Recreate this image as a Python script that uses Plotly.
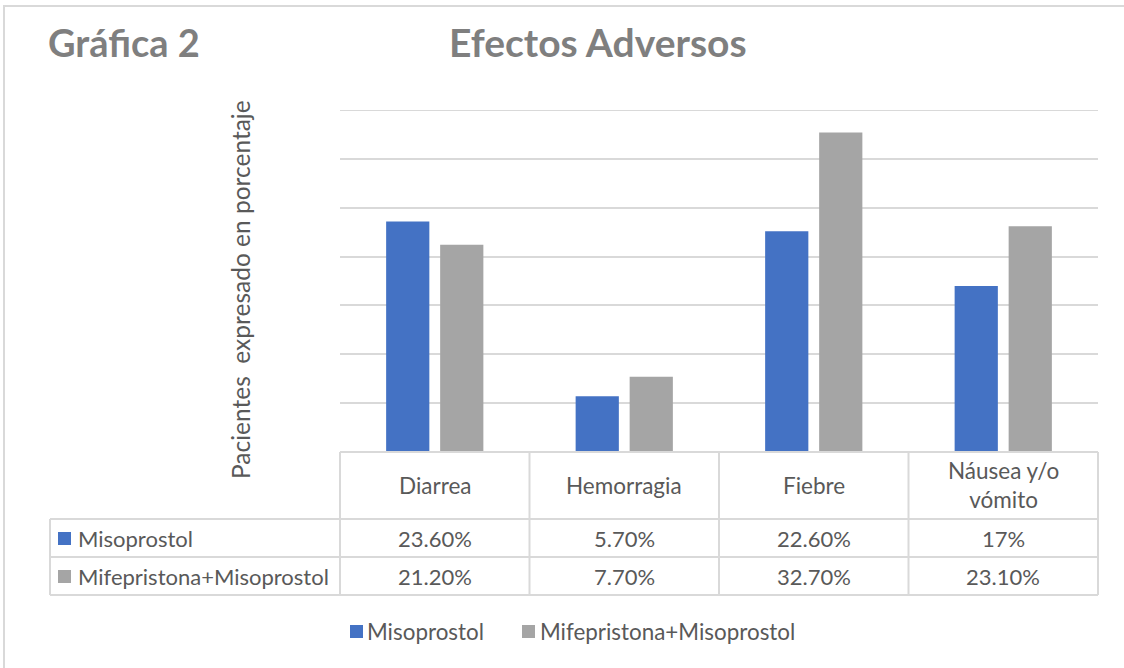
import plotly.graph_objects as go

# ---------------- data ----------------
categories = ["Diarrea", "Hemorragia", "Fiebre", "Náusea y/o vómito"]
category_labels = ["Diarrea", "Hemorragia", "Fiebre", "Náusea y/o<br>vómito"]
series_names = ["Misoprostol", "Mifepristona+Misoprostol"]
misoprostol = [23.6, 5.7, 22.6, 17.0]
mife_miso = [21.2, 7.7, 32.7, 23.1]
misoprostol_labels = ["23.60%", "5.70%", "22.60%", "17%"]
mife_miso_labels = ["21.20%", "7.70%", "32.70%", "23.10%"]
series_values = [misoprostol, mife_miso]
series_labels = [misoprostol_labels, mife_miso_labels]
colors = ["#4472C4", "#A5A5A5"]
y_max, y_step = 35, 5

# ---------------- layout helpers (pixels -> paper) ----------------
W, H = 1124, 668
L, R, T, B = 340, 1098, 110, 452


def px(x):
    return (x - L) / (R - L)


def py(y):
    return (B - y) / (B - T)


FONT = "Lato, 'Noto Sans', sans-serif"
TXT = "#595959"
GRID = "#D9D9D9"

fig = go.Figure()
for name, vals, col in zip(series_names, series_values, colors):
    fig.add_trace(go.Bar(x=categories, y=vals, name=name, showlegend=False,
                         marker=dict(color=col, line=dict(width=0))))

shapes = []
annotations = []

# outer chart frame (only top/left visible)
shapes.append(dict(type="rect", xref="paper", yref="paper", x0=px(4), x1=px(1160), y0=py(720), y1=py(6),
                   line=dict(color=GRID, width=2), fillcolor="rgba(0,0,0,0)", layer="below"))
# top gridline at the range maximum
shapes.append(dict(type="line", xref="paper", yref="y", x0=0, x1=1, y0=y_max, y1=y_max,
                   line=dict(color=GRID, width=2), layer="below"))

# data table
n = len(categories)
row_y = [452, 519, 557, 595]
tbl_left = 50
line = dict(color=GRID, width=2)
shapes.append(dict(type="line", xref="paper", yref="paper", x0=0, x1=1, y0=py(row_y[0]), y1=py(row_y[0]), line=line))
for ry in row_y[1:]:
    shapes.append(dict(type="line", xref="paper", yref="paper", x0=px(tbl_left), x1=1, y0=py(ry), y1=py(ry), line=line))
for i in range(n + 1):
    shapes.append(dict(type="line", xref="paper", yref="paper", x0=i / n, x1=i / n,
                       y0=py(row_y[0]), y1=py(row_y[-1]), line=line))
shapes.append(dict(type="line", xref="paper", yref="paper", x0=px(tbl_left), x1=px(tbl_left),
                   y0=py(row_y[1]), y1=py(row_y[-1]), line=line))

# header labels
for cat, lab in zip(categories, category_labels):
    annotations.append(dict(x=cat, xref="x", y=py((row_y[0] + row_y[1]) / 2), yref="paper",
                            text=lab, showarrow=False, font=dict(family=FONT, size=22.5, color=TXT),
                            xanchor="center", yanchor="middle"))
# rows
for r, (name, labs, col) in enumerate(zip(series_names, series_labels, colors)):
    yc = (row_y[r + 1] + row_y[r + 2]) / 2
    shapes.append(dict(type="rect", xref="paper", yref="paper", x0=px(58), x1=px(71),
                       y0=py(yc + 7), y1=py(yc - 6), line=dict(width=0), fillcolor=col))
    annotations.append(dict(x=px(76), xref="paper", y=py(yc), yref="paper", text=name, showarrow=False,
                            font=dict(family=FONT, size=22, color=TXT), xanchor="left", yanchor="middle"))
    for cat, lab in zip(categories, labs):
        annotations.append(dict(x=cat, xref="x", y=py(yc), yref="paper", text=lab, showarrow=False,
                                font=dict(family=FONT, size=22, color=TXT), xanchor="center", yanchor="middle"))

# legend (drawn as swatches + text)
leg_y = 631
leg_items = [(350, 365), (522, 538)]
for (sx, tx), name, col in zip(leg_items, series_names, colors):
    shapes.append(dict(type="rect", xref="paper", yref="paper", x0=px(sx), x1=px(sx + 13),
                       y0=py(leg_y + 7), y1=py(leg_y - 6), line=dict(width=0), fillcolor=col))
    annotations.append(dict(x=px(tx), xref="paper", y=py(leg_y), yref="paper", text=name, showarrow=False,
                            font=dict(family=FONT, size=22.4, color=TXT), xanchor="left", yanchor="middle"))

# titles
annotations.append(dict(x=px(46), xref="paper", y=py(42), yref="paper", text="<b>Gráfica 2</b>",
                        showarrow=False, font=dict(family=FONT, size=38, color="#7F7F7F"),
                        xanchor="left", yanchor="middle"))
annotations.append(dict(x=px(598), xref="paper", y=py(42), yref="paper", text="<b>Efectos Adversos</b>",
                        showarrow=False, font=dict(family=FONT, size=39, color="#7F7F7F"),
                        xanchor="center", yanchor="middle"))
# y axis title
annotations.append(dict(x=px(240), xref="paper", y=py(290), yref="paper",
                        text="Pacientes  expresado en porcentaje", textangle=-90,
                        showarrow=False, font=dict(family=FONT, size=24.5, color=TXT),
                        xanchor="center", yanchor="middle"))

fig.update_layout(
    width=W, height=H,
    margin=dict(l=L, r=W - R, t=T, b=H - B),
    paper_bgcolor="white", plot_bgcolor="white",
    barmode="group", bargap=0.43, bargroupgap=0.2,
    showlegend=False,
    xaxis=dict(showticklabels=False, showgrid=False, zeroline=False, showline=False, ticks=""),
    yaxis=dict(range=[0, y_max], dtick=y_step, showticklabels=False, showgrid=True, gridcolor=GRID, gridwidth=2,
               zeroline=False, showline=False, ticks=""),
    shapes=shapes,
    annotations=annotations,
)

fig.write_html("out.html")
